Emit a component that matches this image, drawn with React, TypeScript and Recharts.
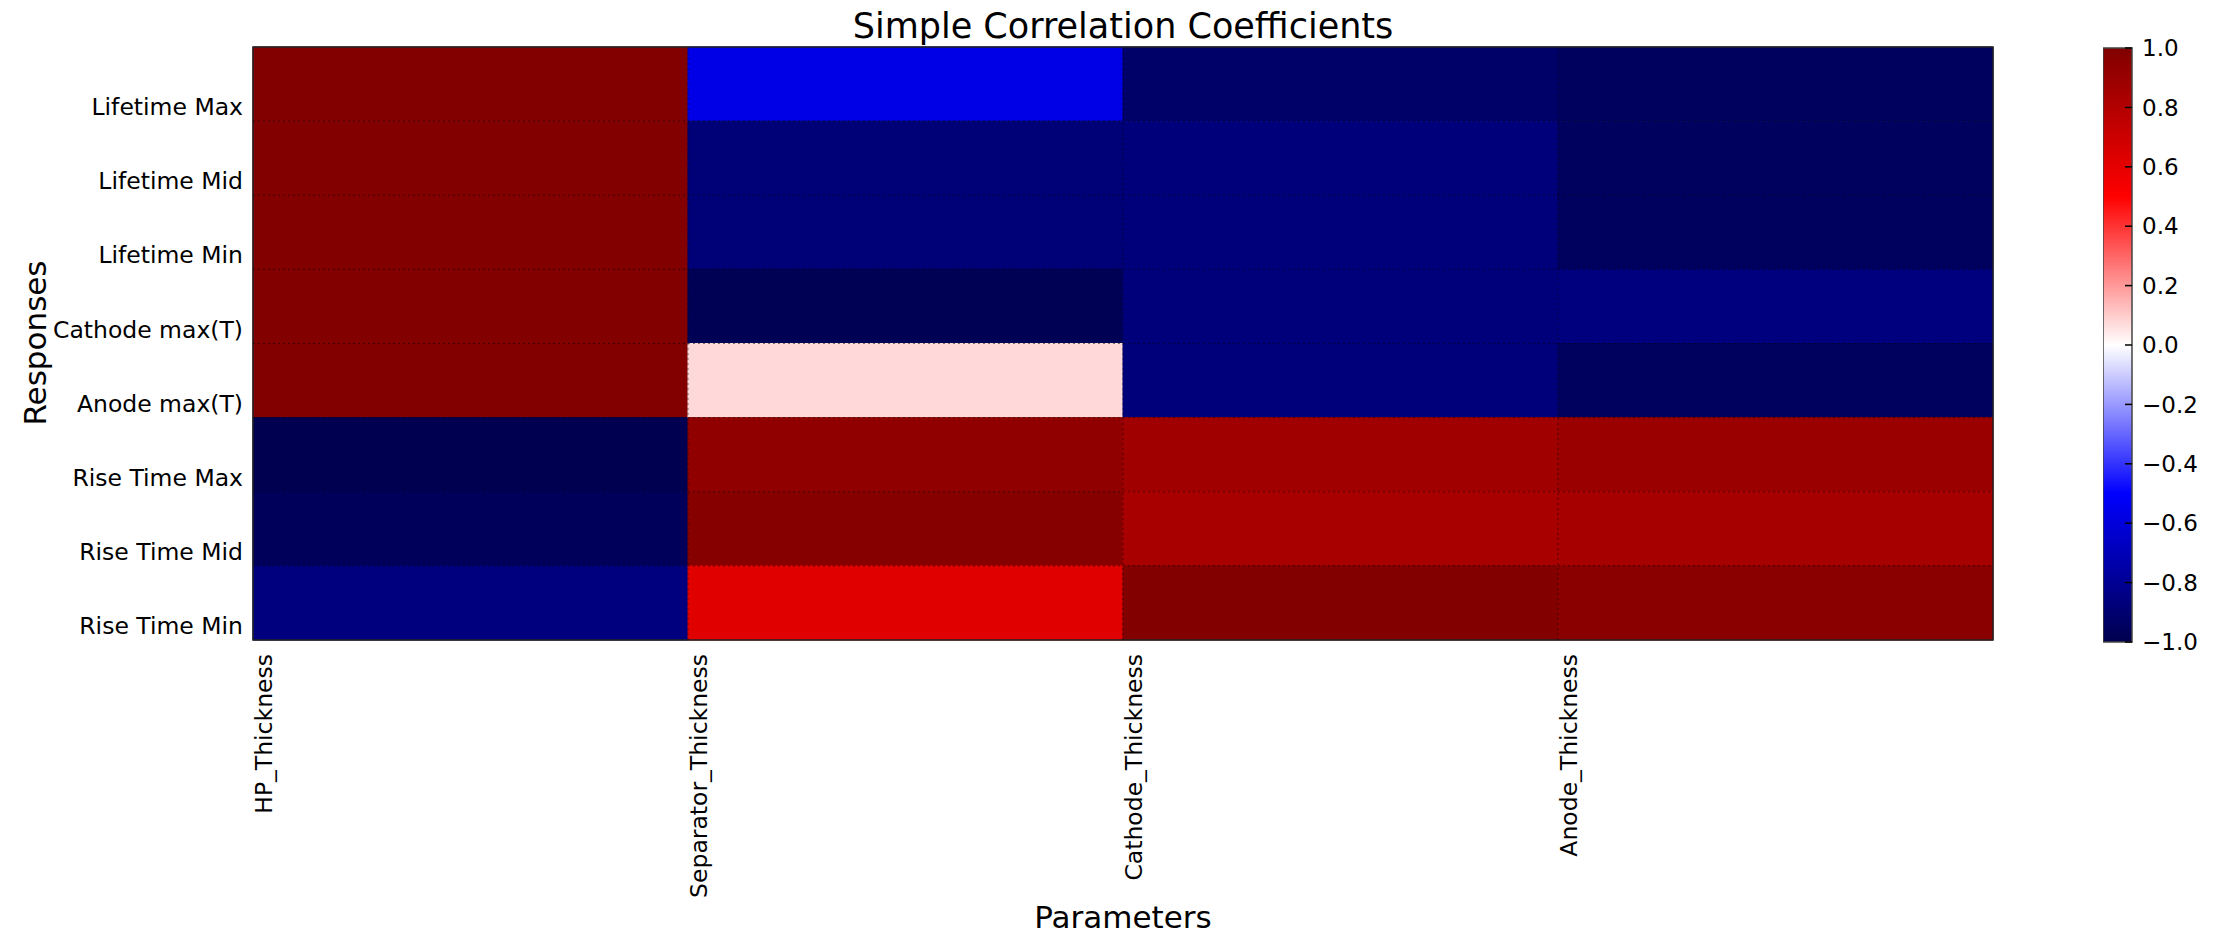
import React from 'react'
import {
  ScatterChart, Scatter, XAxis, YAxis, ReferenceArea, ReferenceLine,
} from 'recharts'

const parameters = ['HP_Thickness', 'Separator_Thickness', 'Cathode_Thickness', 'Anode_Thickness']
const responses = [
  'Lifetime Max', 'Lifetime Mid', 'Lifetime Min', 'Cathode max(T)',
  'Anode max(T)', 'Rise Time Max', 'Rise Time Mid', 'Rise Time Min',
]

// correlation of each parameter with the responses (top to bottom)
const hpThickness = [0.99, 0.99, 0.99, 0.99, 0.99, -0.99, -0.96, -0.86]
const separatorThickness = [-0.57, -0.88, -0.88, -0.98, 0.075, 0.935, 0.975, 0.62]
const cathodeThickness = [-0.92, -0.87, -0.87, -0.87, -0.87, 0.873, 0.84, 0.99]
const anodeThickness = [-0.95, -0.95, -0.95, -0.86, -0.95, 0.896, 0.85, 0.96]

const columns = [hpThickness, separatorThickness, cathodeThickness, anodeThickness]
const colorbarTicks = [-1, -0.8, -0.6, -0.4, -0.2, 0, 0.2, 0.4, 0.6, 0.8, 1]

const FONT = '"DejaVu Sans", sans-serif'

// matplotlib 'seismic'
const seismicStops: [number, number[]][] = [
  [0, [0, 0, 0.3]],
  [0.25, [0, 0, 1]],
  [0.5, [1, 1, 1]],
  [0.75, [1, 0, 0]],
  [1, [0.5, 0, 0]],
]

function seismic(v: number) {
  const t = Math.min(1, Math.max(0, (v + 1) / 2))
  for (let i = 1; i < seismicStops.length; i++) {
    const [t1, c1] = seismicStops[i]
    const [t0, c0] = seismicStops[i - 1]
    if (t <= t1) {
      const f = (t - t0) / (t1 - t0)
      const c = c0.map((a, k) => Math.round((a + (c1[k] - a) * f) * 255))
      return `rgb(${c[0]},${c[1]},${c[2]})`
    }
  }
  return 'rgb(128,0,0)'
}

const cells = columns.flatMap((col, i) =>
  col.map((v, j) => ({ x: i + 0.5, y: j + 0.5, col: i, row: j, value: v })),
)

const YTick = ({ x, y, payload }: any) => (
  <text x={x} y={y - 6} textAnchor="end" fontSize={23.5} fontFamily={FONT} fill="#000">
    {responses[payload.value - 1]}
  </text>
)

const XTick = ({ x, y, payload }: any) => (
  <text
    x={x + 1}
    y={y}
    transform={`rotate(-90 ${x + 1} ${y})`}
    textAnchor="end"
    dominantBaseline="hanging"
    fontSize={23.5}
    fontFamily={FONT}
    fill="#000"
  >
    {parameters[payload.value]}
  </text>
)

const CbarTick = ({ x, y, payload }: any) => (
  <g>
    <line x1={x - 17} x2={x - 10} y1={y} y2={y} stroke="#000" strokeWidth={1.5} />
    <text x={x} y={y} dy="0.36em" fontSize={23} fontFamily={FONT} fill="#000">
      {payload.value.toFixed(1).replace('-', '\u2212')}
    </text>
  </g>
)

export default function App() {
  return (
    <div style={{ position: 'absolute', left: 0, top: 0, width: 2216, height: 934, background: '#fff', fontFamily: FONT }}>
      <div style={{ position: 'absolute', left: 1123, top: 26, transform: 'translate(-50%, -50%)', fontSize: 35, whiteSpace: 'nowrap' }}>
        Simple Correlation Coefficients
      </div>
      <div style={{ position: 'absolute', left: 1123, top: 917, transform: 'translate(-50%, -50%)', fontSize: 31, whiteSpace: 'nowrap' }}>
        Parameters
      </div>
      <div style={{ position: 'absolute', left: 35, top: 343, transform: 'translate(-50%, -50%) rotate(-90deg)', fontSize: 31, whiteSpace: 'nowrap' }}>
        Responses
      </div>

      <div style={{ position: 'absolute', left: 0, top: 0 }}>
        <ScatterChart width={2216} height={934} margin={{ top: 47, right: 223, bottom: 0, left: 0 }}>
          <XAxis
            type="number"
            dataKey="x"
            domain={[0, 4]}
            ticks={[0, 1, 2, 3]}
            height={294}
            tickLine={false}
            tickSize={0}
            tickMargin={14}
            axisLine={false}
            tick={<XTick />}
            allowDataOverflow
          />
          <YAxis
            type="number"
            dataKey="y"
            domain={[0, 8]}
            ticks={[1, 2, 3, 4, 5, 6, 7, 8]}
            reversed
            width={253}
            tickLine={false}
            tickSize={0}
            tickMargin={10}
            axisLine={false}
            tick={<YTick />}
            allowDataOverflow
          />
          {cells.map(c => (
            <ReferenceArea
              key={`${c.col}-${c.row}`}
              x1={c.col}
              x2={c.col + 1}
              y1={c.row}
              y2={c.row + 1}
              fill={seismic(c.value)}
              fillOpacity={1}
              stroke={seismic(c.value)}
              strokeWidth={1}
              ifOverflow="visible"
            />
          ))}
          {[1, 2, 3].map(v => (
            <ReferenceLine key={`vx${v}`} x={v} stroke="#000" strokeOpacity={0.5} strokeDasharray="2 3" />
          ))}
          {[1, 2, 3, 4, 5, 6, 7].map(v => (
            <ReferenceLine key={`hy${v}`} y={v} stroke="#000" strokeOpacity={0.5} strokeDasharray="2 3" />
          ))}
          <ReferenceArea x1={0} x2={4} y1={0} y2={8} fill="none" stroke="#222" strokeWidth={1.5} ifOverflow="visible" />
          <Scatter data={cells} shape={() => <g />} isAnimationActive={false} />
        </ScatterChart>
      </div>

      <div style={{ position: 'absolute', left: 2103, top: 0 }}>
        <ScatterChart width={113} height={934} margin={{ top: 48, right: 0, bottom: 292, left: 0 }}>
          <defs>
            <linearGradient id="seismicGrad" x1="0" y1="1" x2="0" y2="0">
              {seismicStops.map(([t, c]) => (
                <stop key={t} offset={`${t * 100}%`} stopColor={`rgb(${c.map(a => Math.round(a * 255)).join(',')})`} />
              ))}
            </linearGradient>
          </defs>
          <XAxis type="number" dataKey="x" domain={[0, 1]} hide />
          <YAxis
            type="number"
            dataKey="v"
            orientation="right"
            domain={[-1, 1]}
            ticks={colorbarTicks}
            width={84}
            tickLine={false}
            tickSize={0}
            tickMargin={10}
            axisLine={false}
            tick={<CbarTick />}
          />
          <ReferenceArea x1={0} x2={1} y1={-1} y2={1} fill="url(#seismicGrad)" fillOpacity={1} stroke="#444" strokeWidth={1.5} ifOverflow="visible" />
          <Scatter data={colorbarTicks.map(v => ({ x: 0.5, v }))} shape={() => <g />} isAnimationActive={false} />
        </ScatterChart>
      </div>
    </div>
  )
}
